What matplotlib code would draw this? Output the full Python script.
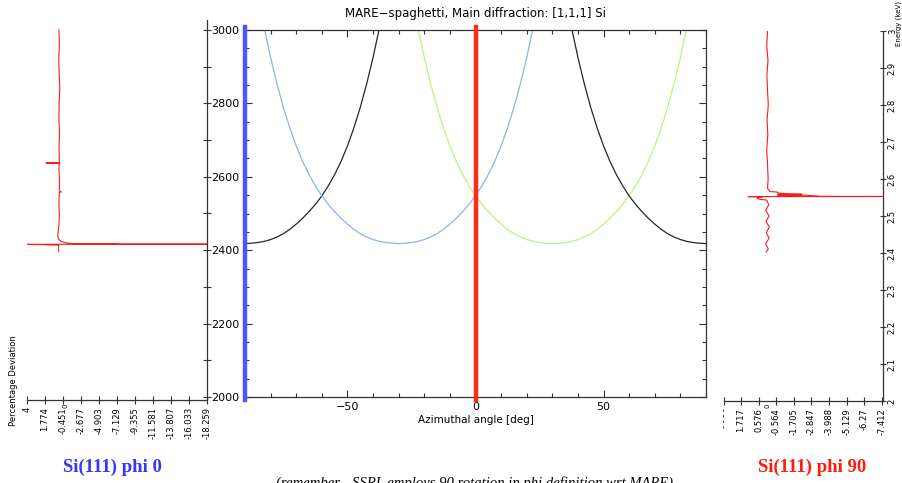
import matplotlib
matplotlib.use('Agg')
import matplotlib.pyplot as plt
from matplotlib.ticker import MultipleLocator

W, H = 902, 483

# main panel: one spaghetti branch, energy (eV) vs offset from its minimum (deg)
offset_deg = [-60, -57.5, -55, -52.5, -50, -47.5, -45, -42.5, -40, -37.5, -35, -32.5, -30,
              -27.5, -25, -22.5, -20, -17.5, -15, -12.5, -10, -7.5, -5, -2.5, 0,
              2.5, 5, 7.5, 10, 12.5, 15, 17.5, 20, 22.5, 25, 27.5, 30,
              32.5, 35, 37.5, 40, 42.5, 45, 47.5, 50, 52.5, 55, 57.5, 60]
branch_ev = [3310, 3198, 3097, 3006, 2925, 2853, 2789, 2733, 2684, 2642, 2606, 2575, 2548,
             2525, 2505, 2487, 2471, 2457, 2445, 2436, 2429, 2424, 2421, 2419, 2418,
             2419, 2421, 2424, 2429, 2436, 2445, 2457, 2471, 2487, 2505, 2525, 2548,
             2575, 2606, 2642, 2684, 2733, 2789, 2853, 2925, 3006, 3097, 3198, 3310]
branch_centres = [-90, -30, 30, 90]
branch_colors = ['#262626', '#8db5dd', '#bdf27f', '#262626']
marker_phi = [-90, 0]
marker_colors = ['#4d55ff', '#ff2a12']

# left panel: Si(111) phi 0, deviation (%) vs energy (eV)
phi0_energy = [3000, 2960, 2920, 2880, 2840, 2800, 2760, 2720, 2680, 2645, 2638, 2637.5, 2637,
               2620, 2590, 2561, 2559, 2557, 2530, 2500, 2470, 2450, 2440, 2430, 2424, 2420,
               2418, 2417, 2416.2, 2416.0, 2415.0, 2414.5, 2414.0, 2397]
phi0_dev = [0.05, 0.0, 0.08, 0.02, -0.05, 0.03, 0.06, -0.02, 0.04, 0.0, 0.0, 1.65, 0.0,
            0.05, -0.02, 0.0, -0.25, 0.0, 0.06, 0.0, 0.05, 0.15, 0.2, 0.1, -0.2, -0.8,
            -1.6, -2.5, -40.0, 6.0, 1.65, 1.6, 0.1, 0.1]
phi0_block_energy = [2413.5, 2419.0]
phi0_block_lo = [-1.6, -1.6]
phi0_block_hi = [-7.1, -7.1]
phi0_ticks = [4, 1.774, -0.451, -2.677, -4.903, -7.129, -9.355, -11.581, -13.807, -16.033, -18.259]
phi0_ticklabels = ['4', '1.774', '-0.451', '-2.677', '-4.903', '-7.129', '-9.355',
                   '-11.581', '-13.807', '-16.033', '-18.259']

# right panel: Si(111) phi 90, deviation (%) vs energy (keV)
phi90_energy = [3.000, 2.960, 2.920, 2.880, 2.840, 2.800, 2.760, 2.720, 2.680, 2.640, 2.600,
                2.575, 2.566, 2.5649, 2.5620, 2.5535, 2.5530, 2.5527, 2.5524, 2.5520, 2.5480,
                2.5450, 2.5430, 2.530, 2.515, 2.500, 2.485, 2.470, 2.455, 2.440, 2.425, 2.410, 2.403]
phi90_dev = [0.0, 0.05, -0.03, 0.04, 0.0, -0.05, 0.03, -0.02, 0.05, 0.0, -0.04,
             0.0, -0.15, -0.6, -0.7, -3.3, -4.43, -9.0, 1.26, 0.3, 0.68,
             0.5, 0.05, -0.08, 0.12, -0.1, 0.1, -0.12, 0.08, -0.1, 0.12, -0.05, 0.1]
phi90_block_energy = [2.5530, 2.5560, 2.5562, 2.5625]
phi90_block_lo = [-0.6, -0.6, -0.6, -0.6]
phi90_block_hi = [-3.3, -3.3, -2.2, -2.2]
phi90_ticks = [2.80, 1.717, 0.576, -0.564, -1.705, -2.847, -3.988, -5.129, -6.27, -7.412]
phi90_ticklabels = ['- - - -', '1.717', '0.576', '-0.564', '-1.705', '-2.847', '-3.988',
                    '-5.129', '-6.27', '-7.412']
energy_kev_ticks = [2.0, 2.1, 2.2, 2.3, 2.4, 2.5, 2.6, 2.7, 2.8, 2.9, 3.0]
energy_kev_labels = ['2', '2.1', '2.2', '2.3', '2.4', '2.5', '2.6', '2.7', '2.8', '2.9', '3']

AX = '#333333'
fig = plt.figure(figsize=(W / 100, H / 100), dpi=100)


def px_axes(x0, y0, x1, y1):
    return fig.add_axes([x0 / W, 1 - y1 / H, (x1 - x0) / W, (y1 - y0) / H])


# ---- main spaghetti plot
ax = px_axes(245, 30, 706, 397)
for c, col in zip(branch_centres, branch_colors):
    ax.plot([c + o for o in offset_deg], branch_ev, color=col, lw=0.9)
for p, col in zip(marker_phi, marker_colors):
    ax.axvline(p, color=col, lw=3.2, ymin=-0.008, ymax=1.008, clip_on=False, zorder=5)
ax.set_xlim(-90, 90)
ax.set_ylim(2000, 3000)
ax.xaxis.set_major_locator(MultipleLocator(50))
ax.xaxis.set_minor_locator(MultipleLocator(10))
ax.yaxis.set_major_locator(MultipleLocator(200))
ax.yaxis.set_minor_locator(MultipleLocator(50))
ax.tick_params(which='both', direction='in', top=True, right=True, colors=AX,
               labelsize=8, labelcolor='black', width=0.8)
ax.tick_params(which='major', length=5)
ax.tick_params(which='minor', length=3)
ax.tick_params(axis='y', pad=4)
for s in ax.spines.values():
    s.set_color(AX)
    s.set_linewidth(0.9)
ax.set_xticks([-50, 0, 50])
ax.set_xticklabels(['\u221250', '0', '50'])
ax.set_xlabel('Azimuthal angle [deg]', fontsize=7.5, labelpad=2)
ax.set_title('MARE\u2212spaghetti, Main diffraction: [1,1,1] Si', fontsize=8.5, pad=9)

# ---- left panel (phi 0)
lp = px_axes(27, 20, 207, 400)
lp.plot(phi0_dev, phi0_energy, color='#ff1a1a', lw=0.8)
lp.fill_betweenx(phi0_block_energy, phi0_block_lo, phi0_block_hi, color='#ff1a1a', lw=0)
lp.set_xlim(4, -18.259)
lp.set_ylim(1991.8, 3027.2)
for k in ('top', 'left'):
    lp.spines[k].set_visible(False)
for k in ('bottom', 'right'):
    lp.spines[k].set_color(AX)
    lp.spines[k].set_linewidth(0.9)
lp.set_xticks(phi0_ticks)
lp.set_xticklabels(phi0_ticklabels, rotation=90, fontsize=6)
lp.set_yticks(range(2000, 3001, 100))
lp.set_yticklabels([])
lp.yaxis.tick_right()
lp.tick_params(axis='both', direction='inout', length=6, width=0.8, colors=AX,
               labelcolor='black', pad=2)
fig.text(65 / W, 1 - 408 / H, '0', rotation=90, fontsize=5, ha='center', va='bottom')
fig.text(14 / W, 1 - 381 / H, 'Percentage Deviation', rotation=90, fontsize=6,
         ha='center', va='center')

# ---- right panel (phi 90)
rp = px_axes(724, 31, 883, 401)
rp.plot(phi90_dev, phi90_energy, color='#ff1a1a', lw=0.8)
rp.fill_betweenx(phi90_block_energy, phi90_block_lo, phi90_block_hi, color='#ff1a1a', lw=0)
rp.set_xlim(2.818, -7.477)
rp.set_ylim(2.0, 3.0)
for k in ('top', 'left'):
    rp.spines[k].set_visible(False)
for k in ('bottom', 'right'):
    rp.spines[k].set_color(AX)
    rp.spines[k].set_linewidth(0.9)
rp.set_xticks(phi90_ticks)
rp.set_xticklabels(phi90_ticklabels, rotation=90, fontsize=6)
rp.yaxis.tick_right()
rp.set_yticks(energy_kev_ticks)
rp.set_yticklabels(energy_kev_labels, rotation=90, fontsize=6, va='center')
rp.tick_params(axis='both', direction='inout', length=6, width=0.8, colors=AX,
               labelcolor='black', pad=2)
rp.tick_params(axis='y', length=4, pad=1.5)
fig.text(767 / W, 1 - 408 / H, '0', rotation=90, fontsize=5, ha='center', va='bottom')
fig.text(899 / W, 1 - 1 / H, 'Energy (keV)', rotation=90, fontsize=5,
         ha='center', va='top')

# ---- captions
fig.text(112 / W, 1 - 467 / H, 'Si(111) phi 0', color='#3535ff', fontsize=13.5,
         family='Liberation Serif', weight='bold', ha='center', va='center')
fig.text(812 / W, 1 - 467 / H, 'Si(111) phi 90', color='#ff1a0a', fontsize=13.5,
         family='Liberation Serif', weight='bold', ha='center', va='center')
fig.text(474 / W, 1 - 476 / H,
         '(remember - SSRL employs 90 rotation in phi definition wrt MARE)',
         fontsize=10.5, family='Liberation Serif', style='italic', ha='center', va='top')

fig.savefig('out.png', dpi=100)
